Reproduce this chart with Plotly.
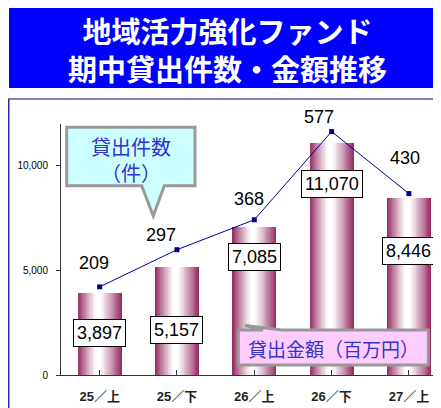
import plotly.graph_objects as go

# ---------------- data ----------------
categories = ["25/上", "25/下", "26/上", "26/下", "27/上"]
amounts = [3897, 5157, 7085, 11070, 8446]          # 貸出金額(百万円)
counts = [209, 297, 368, 577, 430]                 # 貸出件数(件)
amount_labels = ["3,897", "5,157", "7,085", "11,070", "8,446"]
count_labels = ["209", "297", "368", "577", "430"]
y_tick_values = [0, 5000, 10000]
y_tick_labels = ["0", "5,000", "10,000"]
title_lines = ["地域活力強化ファンド", "期中貸出件数・金額推移"]
count_callout = ["貸出件数", "（件）"]
amount_callout = "貸出金額（百万円）"

# ---------------- style / layout ----------------
OFF = 8                      # page body margin offset
W, H = 441 - OFF, 408 - OFF
ML, MR, MT, MB = 61 - OFF, 0, 124 - OFF, 408 - 375
FONT = "Liberation Sans, Arial, Noto Sans CJK JP, sans-serif"
CJK = "Noto Sans CJK JP, sans-serif"
count_label_shift = [(-6, 24), (-16, 15), (-5, 21), (-13, 15), (-4, 36)]
amount_label_drop = [40, 63, 30, 41, 53]
BAR_W = 0.57
EDGE = (148, 44, 98)
N_LAYERS = 26


def px(x):
    return (x - OFF - ML) / (W - ML - MR)


def py(y):
    return (H - MB - (y - OFF)) / (H - MT - MB)


xs = list(range(len(categories)))
tick_text = [c.replace("/", "／") for c in categories]
fig = go.Figure()

# gradient bars built from overlaid bars of decreasing width
for k in range(N_LAYERS):
    d = 1 - k / N_LAYERS
    f = max(0.0, min(1.0, (d - 0.1) / 0.9)) ** 1.15
    col = "rgb(%d,%d,%d)" % tuple(round(255 + (e - 255) * f) for e in EDGE)
    w = BAR_W * d
    shift = -0.02 * (1 - d)
    fig.add_trace(go.Bar(
        x=xs, y=amounts, width=w, offset=shift - w / 2,
        marker=dict(color=col, line=dict(width=0)),
        showlegend=False, hoverinfo="skip", yaxis="y"))

fig.add_trace(go.Scatter(
    x=xs, y=counts, mode="lines+markers", yaxis="y2",
    line=dict(color="#000099", width=1),
    marker=dict(symbol="square", size=5, color="#000099"),
    showlegend=False, hoverinfo="skip"))

annotations = []
for i, (v, t) in enumerate(zip(counts, count_labels)):
    dx, dy = count_label_shift[i]
    annotations.append(dict(x=xs[i], y=v, xref="x", yref="y2", text=t,
                            showarrow=False, xshift=dx, yshift=dy,
                            xanchor="center", yanchor="middle",
                            font=dict(family=FONT, size=18, color="black")))
for i, (v, t) in enumerate(zip(amounts, amount_labels)):
    annotations.append(dict(x=xs[i], y=v, xref="x", yref="y", text=t,
                            showarrow=False, yshift=-amount_label_drop[i],
                            xanchor="center", yanchor="middle",
                            bgcolor="white", bordercolor="black", borderwidth=1,
                            borderpad=3,
                            font=dict(family=FONT, size=18, color="black")))


def paper_text(x, y, text, size, color, weight="normal"):
    return dict(x=px(x), y=py(y), xref="paper", yref="paper", text=text,
                showarrow=False, xanchor="center", yanchor="middle", align="center",
                font=dict(family=CJK, size=size, color=color, weight=weight))


annotations += [
    paper_text(227, 48.5, "<br>".join(title_lines), 29, "white", "bold"),
    paper_text(131, 159.5, "<br>".join(count_callout), 20, "#3333CC"),
    paper_text(333, 348, amount_callout, 19, "#3333CC"),
]


def path(points):
    return "M " + " L ".join("%.5f,%.5f" % (px(a), py(b)) for a, b in points) + " Z"


shapes = [
    dict(type="rect", xref="paper", yref="paper", x0=px(9), x1=px(442),
         y0=py(88), y1=py(6), fillcolor="#0000FF", line=dict(width=0), layer="above"),
    dict(type="line", xref="paper", yref="paper", x0=px(8), x1=px(442),
         y0=py(99), y1=py(99), line=dict(color="#8080C0", width=2), layer="above"),
    dict(type="line", xref="paper", yref="paper", x0=px(8.5), x1=px(8.5),
         y0=py(99), y1=py(410), line=dict(color="#2A2A9A", width=2), layer="above"),
    dict(type="path", xref="paper", yref="paper",
         path=path([(66.7, 127.3), (195, 127.3), (195, 185.7), (164.3, 185.7),
                    (153.3, 216), (141.7, 185.7), (66.7, 185.7)]),
         fillcolor="#CCFFFF", line=dict(color="#999999", width=3), layer="above"),
    dict(type="path", xref="paper", yref="paper",
         path=path([(238.3, 330), (263, 330), (245, 325.5), (282, 330),
                    (428.3, 330), (428.3, 365), (238.3, 365)]),
         fillcolor="#FFCCFF", line=dict(color="#999999", width=3), layer="above"),
]

fig.update_layout(
    width=W, height=H,
    margin=dict(l=ML, r=MR, t=MT, b=MB, pad=0),
    paper_bgcolor="white", plot_bgcolor="white",
    barmode="overlay", bargap=0,
    showlegend=False,
    xaxis=dict(range=[-0.5, len(categories) - 0.585], tickvals=xs, ticktext=tick_text,
               tickson="boundaries", ticks="inside", ticklen=5, tickcolor="#333333",
               showline=True, linecolor="#333333", linewidth=1,
               showgrid=False, zeroline=False, ticklabelstandoff=9,
               tickfont=dict(family=FONT, size=13, color="#222222", weight="bold")),
    yaxis=dict(range=[0, 12000], tickvals=y_tick_values, ticktext=y_tick_labels,
               ticks="outside", ticklen=4, tickcolor="#333333",
               showline=True, linecolor="#333333", linewidth=1,
               showgrid=False, zeroline=False, ticklabelstandoff=6,
               tickfont=dict(family=FONT, size=10, color="black")),
    yaxis2=dict(range=[0, 595], overlaying="y", visible=False),
    annotations=annotations,
    shapes=shapes,
)

fig.write_html("out.html")
